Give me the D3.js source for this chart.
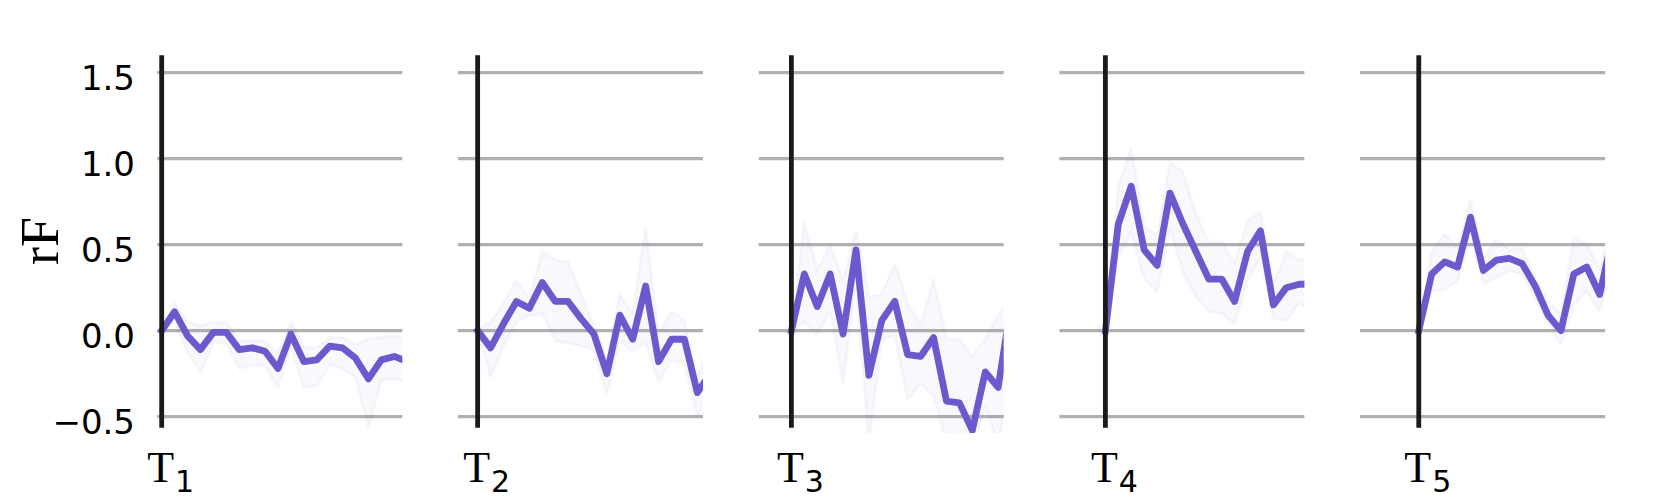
<!DOCTYPE html>
<html><head><meta charset="utf-8">
<script src="https://cdn.jsdelivr.net/npm/d3@7"></script>
<style>body{margin:0;background:#fff} svg{display:block}</style>
</head><body><svg id="c" width="1661" height="498"></svg>
<script>
// ---- data ----
const panelSubs = ["1", "2", "3", "4", "5"];
const yTicks = [-0.5, 0.0, 0.5, 1.0, 1.5];
const yTickLabels = ["\u22120.5", "0.0", "0.5", "1.0", "1.5"];
const yLabel = "rF";
// x-axis start of each panel, in samples relative to the onset (sample 0)
const xStart = [-0.34, -1.52, -2.53, -3.56, -4.54];
const windowLen = 18.96;
const yDomain = [-0.595, 1.601];
const onsetSpan = [-0.565, 1.601];

const mean1 = [0.0, 0.11, -0.03, -0.11, -0.01, -0.01, -0.11, -0.10, -0.12, -0.22, -0.02, -0.18, -0.17, -0.09, -0.10, -0.16, -0.28, -0.17, -0.15, -0.18];
const hi1   = [0.0, 0.16, 0.05, 0.03, 0.05, 0.05, -0.06, -0.06, -0.06, -0.13, 0.05, -0.10, -0.10, -0.04, -0.04, -0.08, -0.05, -0.04, -0.03, -0.05];
const lo1   = [0.0, 0.06, -0.13, -0.24, -0.07, -0.07, -0.22, -0.20, -0.21, -0.33, -0.10, -0.33, -0.32, -0.20, -0.22, -0.27, -0.56, -0.29, -0.28, -0.30];

const mean2 = [0.0, -0.10, 0.04, 0.17, 0.13, 0.28, 0.17, 0.17, 0.07, -0.02, -0.25, 0.09, -0.05, 0.26, -0.18, -0.05, -0.05, -0.36, -0.25];
const hi2   = [0.0, 0.05, 0.16, 0.29, 0.18, 0.46, 0.41, 0.40, 0.21, 0.03, -0.17, 0.21, 0.10, 0.60, -0.02, 0.11, 0.06, -0.28, -0.06];
const lo2   = [0.0, -0.27, -0.09, 0.05, 0.09, 0.10, -0.06, -0.07, -0.09, -0.11, -0.37, -0.06, -0.12, -0.07, -0.30, -0.17, -0.19, -0.50, -0.38];

const mean3 = [0.0, 0.33, 0.14, 0.33, -0.02, 0.47, -0.26, 0.06, 0.17, -0.14, -0.15, -0.04, -0.41, -0.42, -0.58, -0.24, -0.33, 0.15];
const hi3   = [0.0, 0.63, 0.35, 0.50, 0.29, 0.58, 0.20, 0.21, 0.39, 0.16, 0.03, 0.30, -0.05, -0.05, -0.15, -0.05, 0.09, 0.20];
const lo3   = [0.0, 0.05, -0.02, 0.11, -0.31, 0.30, -0.65, -0.05, -0.03, -0.40, -0.31, -0.38, -0.65, -0.65, -0.70, -0.44, -0.65, -0.30];

const mean4 = [0.0, 0.62, 0.84, 0.47, 0.38, 0.80, 0.62, 0.46, 0.30, 0.30, 0.17, 0.46, 0.58, 0.15, 0.25, 0.27, 0.27];
const hi4   = [0.0, 0.84, 1.06, 0.61, 0.55, 0.98, 0.92, 0.68, 0.51, 0.52, 0.39, 0.64, 0.69, 0.27, 0.46, 0.41, 0.43];
const lo4   = [0.0, 0.43, 0.57, 0.30, 0.22, 0.59, 0.34, 0.20, 0.11, 0.10, 0.04, 0.29, 0.43, 0.07, 0.06, 0.16, 0.11];

const mean5 = [0.0, 0.33, 0.40, 0.37, 0.66, 0.35, 0.41, 0.42, 0.39, 0.26, 0.09, 0.0, 0.33, 0.37, 0.21, 0.55];
const hi5   = [0.0, 0.46, 0.56, 0.48, 0.76, 0.42, 0.53, 0.47, 0.48, 0.31, 0.17, 0.10, 0.54, 0.50, 0.36, 0.65];
const lo5   = [0.0, 0.23, 0.24, 0.29, 0.56, 0.27, 0.31, 0.35, 0.33, 0.19, 0.05, -0.08, 0.15, 0.23, 0.11, 0.40];

const means = [mean1, mean2, mean3, mean4, mean5];
const his = [hi1, hi2, hi3, hi4, hi5];
const los = [lo1, lo2, lo3, lo4, lo5];

// ---- layout ----
const svg = d3.select("#c");
const left0 = 157.3, pStep = 300.7, pW = 245, plotTop = 55.3, plotBottom = 433;
const lineColor = "#6a5acd";

const y = d3.scaleLinear().domain(yDomain).range([plotBottom, plotTop]);

const defs = svg.append("defs");

panelSubs.forEach((sub, k) => {
  const L = left0 + k * pStep;
  const x = d3.scaleLinear().domain([xStart[k], xStart[k] + windowLen]).range([L, L + pW]);
  const g = svg.append("g");

  defs.append("clipPath").attr("id", "clip" + k)
    .append("rect").attr("x", L).attr("y", plotTop - 20).attr("width", pW).attr("height", plotBottom - plotTop + 20);

  // gridlines
  g.selectAll("line.grid").data(yTicks).join("line")
    .attr("x1", L).attr("x2", L + pW)
    .attr("y1", d => y(d)).attr("y2", d => y(d))
    .attr("stroke", "#b0b0b0").attr("stroke-width", 3.2);

  const pts = means[k].map((v, i) => ({ i, v, hi: his[k][i], lo: los[k][i] }));
  const cg = g.append("g").attr("clip-path", `url(#clip${k})`);

  const area = d3.area().x(d => x(d.i)).y0(d => y(d.lo)).y1(d => y(d.hi));
  cg.append("path").datum(pts).attr("d", area)
    .attr("fill", "rgba(106,90,205,0.04)")
    .attr("stroke", "rgba(106,90,205,0.05)").attr("stroke-width", 3)
    .attr("stroke-linejoin", "round");

  const line = d3.line().x(d => x(d.i)).y(d => y(d.v));
  cg.append("path").datum(pts).attr("d", line)
    .attr("fill", "none").attr("stroke", lineColor).attr("stroke-width", 6.8)
    .attr("stroke-linejoin", "round").attr("stroke-linecap", "square");

  // onset line
  g.append("line")
    .attr("x1", x(0)).attr("x2", x(0))
    .attr("y1", y(onsetSpan[1])).attr("y2", y(onsetSpan[0]))
    .attr("stroke", "#1a1a1a").attr("stroke-width", 4.8);

  // T label
  const t = g.append("text").attr("x", x(0) - 14.5).attr("y", 481.7).attr("fill", "#000");
  t.append("tspan").attr("font-family", "Liberation Serif").attr("font-size", 44).text("T");
  t.append("tspan").attr("font-family", "DejaVu Sans").attr("font-size", 30).attr("dx", 1).attr("dy", 10).text(sub);

  if (k === 0) {
    g.selectAll("text.tick").data(yTicks).join("text")
      .attr("x", 135).attr("y", d => y(d) + 17.4)
      .attr("text-anchor", "end")
      .attr("font-family", "DejaVu Sans").attr("font-size", 34).attr("fill", "#000")
      .text((d, i) => yTickLabels[i]);
  }
});

svg.append("text")
  .attr("transform", "translate(58.3,241) rotate(-90)")
  .attr("text-anchor", "middle")
  .attr("font-family", "Liberation Serif").attr("font-size", 54).attr("fill", "#000")
  .text(yLabel);
</script></body></html>
